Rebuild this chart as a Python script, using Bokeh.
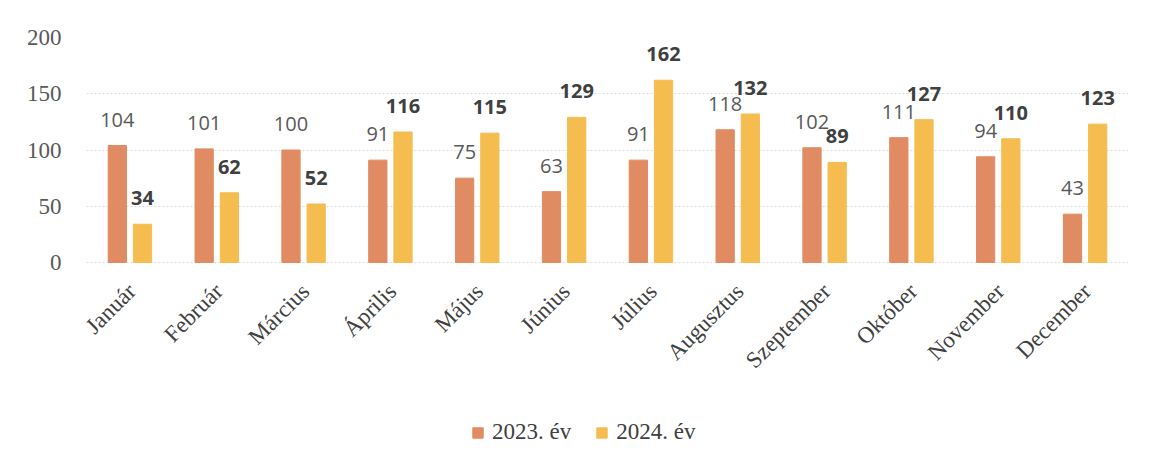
import math
from bokeh.plotting import figure
from bokeh.models import (ColumnDataSource, FactorRange, Range1d, FixedTicker,
                          LabelSet, Legend, LegendItem)
from bokeh.core.properties import value
from bokeh.transform import dodge
from bokeh.embed import file_html
from bokeh.resources import INLINE

months = ["Január", "Február", "Március", "Április", "Május", "Június",
          "Július", "Augusztus", "Szeptember", "Október", "November", "December"]
v2023 = [104, 101, 100, 91, 75, 63, 91, 118, 102, 111, 94, 43]
v2024 = [34, 62, 52, 116, 115, 129, 162, 132, 89, 127, 110, 123]
series_names = ["2023. év", "2024. év"]
y_ticks = [0, 50, 100, 150, 200]

src = ColumnDataSource(dict(
    month=months, v2023=v2023, v2024=v2024, base=[0] * len(months),
    t2023=[str(v) for v in v2023], t2024=[str(v) for v in v2024]))

SERIF = "Liberation Serif"
SANS = "Open Sans"

# frame extends below the zero line to host the month labels and the legend
p = figure(x_range=FactorRange(*months), y_range=Range1d(-176, 200),
           frame_width=1042, frame_height=423,
           min_border_left=86, min_border_top=37, min_border_right=19,
           min_border_bottom=4, x_axis_location=None,
           output_backend="svg", toolbar_location=None)
p.outline_line_color = None
p.background_fill_color = "white"
p.border_fill_color = "white"

c23 = "#E08B62"
c24 = "#F5BD4F"
r1 = p.vbar(x=dodge("month", -0.145, range=p.x_range), top="v2023", width=0.21,
            source=src, fill_color=c23, line_color=c23)
r2 = p.vbar(x=dodge("month", 0.145, range=p.x_range), top="v2024", width=0.21,
            source=src, fill_color=c24, line_color=c24)

l1 = LabelSet(x=dodge("month", -0.145, range=p.x_range), y="v2023", text="t2023",
              source=src, text_align="center", text_baseline="bottom", y_offset=19,
              text_font=value(SANS), text_font_size="20px", text_color="#595959")
l2 = LabelSet(x=dodge("month", 0.145, range=p.x_range), y="v2024", text="t2024",
              source=src, text_align="center", text_baseline="bottom", y_offset=19,
              text_font=value(SANS), text_font_size="20px", text_color="#404040",
              text_font_style="bold")
p.add_layout(l1)
p.add_layout(l2)

# month labels (category axis labels), rotated
lm = LabelSet(x="month", y="base", text="month", source=src,
              angle=math.pi / 4, text_align="right", text_baseline="middle",
              y_offset=-25, x_offset=2,
              text_font=value(SERIF), text_font_size="23px", text_color="#404040")
p.add_layout(lm)

p.xgrid.grid_line_color = None
p.ygrid.grid_line_color = "#dddddd"
p.ygrid.grid_line_dash = "2 2"
p.ygrid.grid_line_width = 1

p.yaxis.ticker = FixedTicker(ticks=y_ticks)
p.yaxis.axis_line_color = None
p.yaxis.major_tick_line_color = None
p.yaxis.minor_tick_line_color = None
p.yaxis.major_label_standoff = 19
p.yaxis.major_label_text_font = SERIF
p.yaxis.major_label_text_font_size = "23px"
p.yaxis.major_label_text_color = "#595959"

legend = Legend(items=[LegendItem(label=series_names[0], renderers=[r1]),
                       LegendItem(label=series_names[1], renderers=[r2])],
                orientation="horizontal", location=(385, 15),
                label_text_font=SERIF, label_text_font_size="23px",
                label_text_color="#404040",
                glyph_width=13, glyph_height=13, spacing=24,
                label_standoff=8, padding=4, margin=0,
                border_line_color=None, background_fill_alpha=0)
p.add_layout(legend, "center")

open("out.html", "w").write(file_html(p, INLINE))
